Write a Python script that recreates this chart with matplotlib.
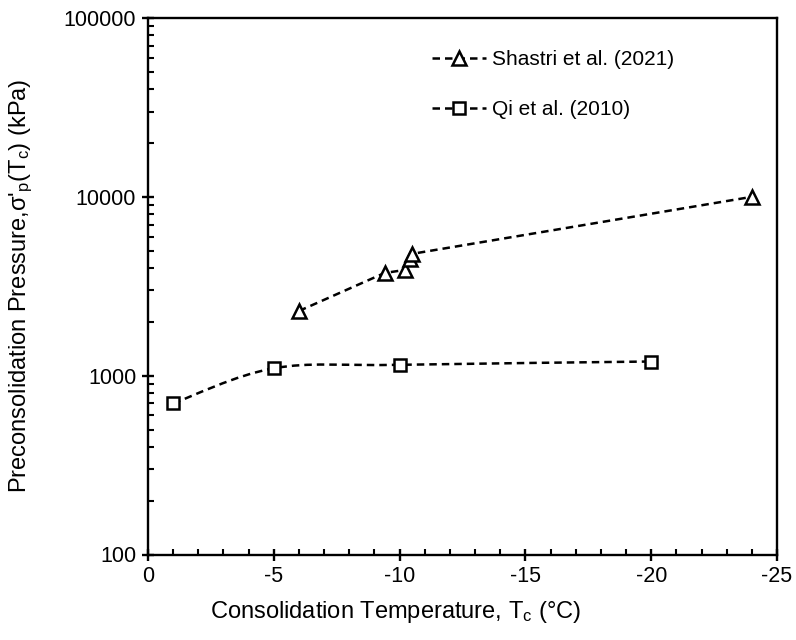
import numpy as np
import matplotlib
matplotlib.use("Agg")
import matplotlib.pyplot as plt
from matplotlib.path import Path
from matplotlib.patches import PathPatch
from matplotlib.ticker import FixedLocator, LogLocator, NullFormatter

plt.rcParams["font.family"] = ["Liberation Sans", "DejaVu Sans"]
plt.rcParams["mathtext.fontset"] = "custom"
plt.rcParams["mathtext.rm"] = "Liberation Sans"
plt.rcParams["mathtext.it"] = "Liberation Sans"

# data
shastri_T = [-6.0, -9.4, -10.2, -10.4, -10.5, -24.0]
shastri_p = [2300, 3750, 3900, 4500, 4800, 10000]
qi_T = [-1.0, -5.0, -10.0, -20.0]
qi_p = [700, 1100, 1150, 1200]

x_ticks = [0, -5, -10, -15, -20, -25]
y_ticks = [100, 1000, 10000, 100000]


def smooth_path(xs, ys):
    # Excel-like smoothed line: Catmull-Rom bezier in (x, log10 y) space
    px = np.asarray(xs, float)
    py = np.log10(np.asarray(ys, float))
    n = len(px)
    verts = [(px[0], py[0])]
    codes = [Path.MOVETO]
    for i in range(n - 1):
        i0 = max(i - 1, 0)
        i3 = min(i + 2, n - 1)
        c1 = (px[i] + (px[i + 1] - px[i0]) / 6, py[i] + (py[i + 1] - py[i0]) / 6)
        c2 = (px[i + 1] - (px[i3] - px[i]) / 6, py[i + 1] - (py[i3] - py[i]) / 6)
        verts += [c1, c2, (px[i + 1], py[i + 1])]
        codes += [Path.CURVE4] * 3
    verts = [(vx, 10 ** vy) for vx, vy in verts]
    return Path(verts, codes)


DASH = (0, (3, 2))
LW = 1.8

fig = plt.figure(figsize=(7.96, 6.40), dpi=100)
ax = fig.add_axes([148 / 796, 1 - 554.5 / 640, 629 / 796, 536.5 / 640])

# Shastri: straight dashed segments
ax.plot(shastri_T, shastri_p, color="black", lw=LW, linestyle=DASH,
        marker="^", ms=10, mfc="white", mec="black", mew=1.8,
        label="Shastri et al. (2021)", zorder=3)

# Qi: smoothed dashed line
ax.add_patch(PathPatch(smooth_path(qi_T, qi_p), facecolor="none", edgecolor="black",
                       lw=LW, linestyle=DASH, zorder=2))
ax.plot([], [], color="black", lw=LW, linestyle=DASH, marker="s", ms=9,
        mfc="white", mec="black", mew=1.8, label="Qi et al. (2010)")
ax.plot(qi_T, qi_p, linestyle="none", marker="s", ms=9, mfc="white",
        mec="black", mew=1.8, zorder=3)

ax.set_yscale("log")
ax.set_xlim(0, -25)
ax.set_ylim(100, 100000)
ax.xaxis.set_major_locator(FixedLocator(x_ticks))
ax.xaxis.set_minor_locator(FixedLocator(np.arange(0, -26, -1)))
ax.set_xticklabels([str(t) for t in x_ticks])
ax.yaxis.set_major_locator(FixedLocator(y_ticks))
ax.yaxis.set_minor_locator(LogLocator(base=10, subs=np.arange(2, 10)))
ax.yaxis.set_minor_formatter(NullFormatter())
ax.set_yticklabels([str(t) for t in y_ticks])

for s in ax.spines.values():
    s.set_linewidth(1.7)
ax.tick_params(which="major", direction="inout", length=9, width=1.7,
               labelsize=15.5, pad=4)
ax.tick_params(which="minor", direction="in", length=4, width=1.5)

ax.set_xlabel("Consolidation Temperature, T$_\\mathrm{c}$ (°C)", fontsize=17)
ax.xaxis.set_label_coords(0.393, -0.083)
ax.set_ylabel("Preconsolidation Pressure,σ'$_\\mathrm{p}$(T$_\\mathrm{c}$) (kPa)",
              fontsize=17)
ax.yaxis.set_label_coords(-0.18, 0.5)

ax.legend(loc="upper left", bbox_to_anchor=(0.435, 0.96), frameon=False,
          borderpad=0, fontsize=15, handlelength=2.6, handletextpad=0.3,
          labelspacing=1.5)

fig.savefig("out.png", dpi=100)
